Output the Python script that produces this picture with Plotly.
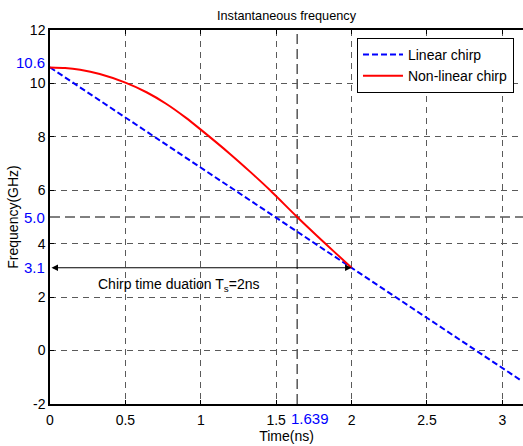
import plotly.graph_objects as go

# ---- data ----
t_linear = [0.0, 2.0, 3.13]
f_linear = [10.6, 3.1, -1.14]

t_nonlinear = [0.0, 0.1, 0.2, 0.33, 0.5, 0.64, 0.77, 0.9, 1.0, 1.19,
               1.33, 1.46, 1.639, 1.77, 1.9, 2.0]
f_nonlinear = [10.6, 10.58, 10.51, 10.35, 10.03, 9.67, 9.24, 8.72, 8.27, 7.38,
               6.68, 6.0, 5.0, 4.30, 3.62, 3.1]

x_ticks = [0, 0.5, 1, 1.5, 2, 2.5, 3]
y_ticks = [-2, 0, 2, 4, 6, 8, 10, 12]
marked_t = 1.639
marked_f = [3.1, 5.0, 10.6]
marked_f_text = ["3.1", "5.0", "10.6"]
chirp_T = 2.0

FONT = "Liberation Sans, Arial, sans-serif"
X_MAX = 3.137

fig = go.Figure()
fig.add_trace(go.Scatter(x=t_linear, y=f_linear, mode="lines", name="Linear chirp",
                         line=dict(color="#0000ff", width=2, dash="6px,3px")))
fig.add_trace(go.Scatter(x=t_nonlinear, y=f_nonlinear, mode="lines", name="Non-linear chirp",
                         line=dict(color="#ff0000", width=2, shape="spline", smoothing=0.6)))

# black dashed marker lines
fig.add_shape(type="line", xref="x", yref="y", x0=0, x1=X_MAX, y0=marked_f[1], y1=marked_f[1],
              line=dict(color="black", width=1, dash="10px,5px"), layer="below")
fig.add_shape(type="line", xref="x", yref="y", x0=marked_t, x1=marked_t, y0=-2, y1=12,
              line=dict(color="black", width=1, dash="10px,5px"), layer="below")

# double-headed arrow
fig.add_annotation(x=chirp_T, y=marked_f[0], ax=0, ay=marked_f[0], xref="x", yref="y",
                   axref="x", ayref="y", text="", showarrow=True, arrowhead=2,
                   startarrowhead=2, arrowside="end+start", arrowsize=1.3, startarrowsize=1.3,
                   arrowwidth=1, arrowcolor="black", standoff=0, startstandoff=0)
fig.add_annotation(x=0.855, y=2.47, xref="x", yref="y", showarrow=False,
                   text="Chirp time duation T<sub>s</sub>=2ns",
                   font=dict(family=FONT, size=14, color="black"))

# blue labels
fig.add_annotation(x=marked_t, y=0, xref="x", yref="paper", yanchor="top", xanchor="center",
                   xshift=13, yshift=-4, showarrow=False, text=f"{marked_t}",
                   font=dict(family=FONT, size=15, color="#0000ff"))
for val, txt in zip(marked_f, marked_f_text):
    fig.add_annotation(x=0, y=val, xref="paper", yref="y", xanchor="right", yanchor="middle",
                       xshift=-3, yshift=(5 if txt == "10.6" else 0), showarrow=False, text=txt,
                       font=dict(family=FONT, size=15, color="#0000ff"))

grid_color = "#5a5a5a"
fig.update_layout(
    width=523, height=446,
    margin=dict(l=50, r=0, t=30, b=42),
    paper_bgcolor="white", plot_bgcolor="white",
    title=dict(text="Instantaneous frequency", x=0.5, xref="paper", y=0.966, yanchor="middle",
               font=dict(family=FONT, size=12.7, color="black")),
    font=dict(family=FONT, size=14, color="black"),
    legend=dict(x=0.649, y=0.979, xanchor="left", yanchor="top", bgcolor="white",
                bordercolor="black", borderwidth=1, font=dict(family=FONT, size=14),
                tracegroupgap=0, itemwidth=40),
    showlegend=True,
)
fig.update_xaxes(range=[0, X_MAX], tickvals=x_ticks, ticktext=[f"{v:g}" for v in x_ticks],
                 showgrid=True, gridcolor=grid_color, griddash="6px,5px", gridwidth=1,
                 showline=True, linecolor="black", linewidth=1.5, mirror="allticks",
                 ticks="inside", ticklen=4, tickcolor="black", zeroline=False,
                 ticklabelstandoff=2,
                 title=dict(text="Time(ns)", standoff=3, font=dict(family=FONT, size=14)),
                 tickfont=dict(family=FONT, size=14, color="black"))
fig.update_yaxes(range=[-2, 12], tickvals=y_ticks, ticktext=[str(v) for v in y_ticks],
                 showgrid=True, gridcolor=grid_color, griddash="6px,5px", gridwidth=1,
                 showline=True, linecolor="black", linewidth=1.5, mirror=False,
                 ticks="inside", ticklen=4, tickcolor="black", zeroline=False,
                 title=dict(text="Frequency(GHz)", standoff=8, font=dict(family=FONT, size=14)),
                 tickfont=dict(family=FONT, size=14, color="black"))

fig.write_html("out.html")
